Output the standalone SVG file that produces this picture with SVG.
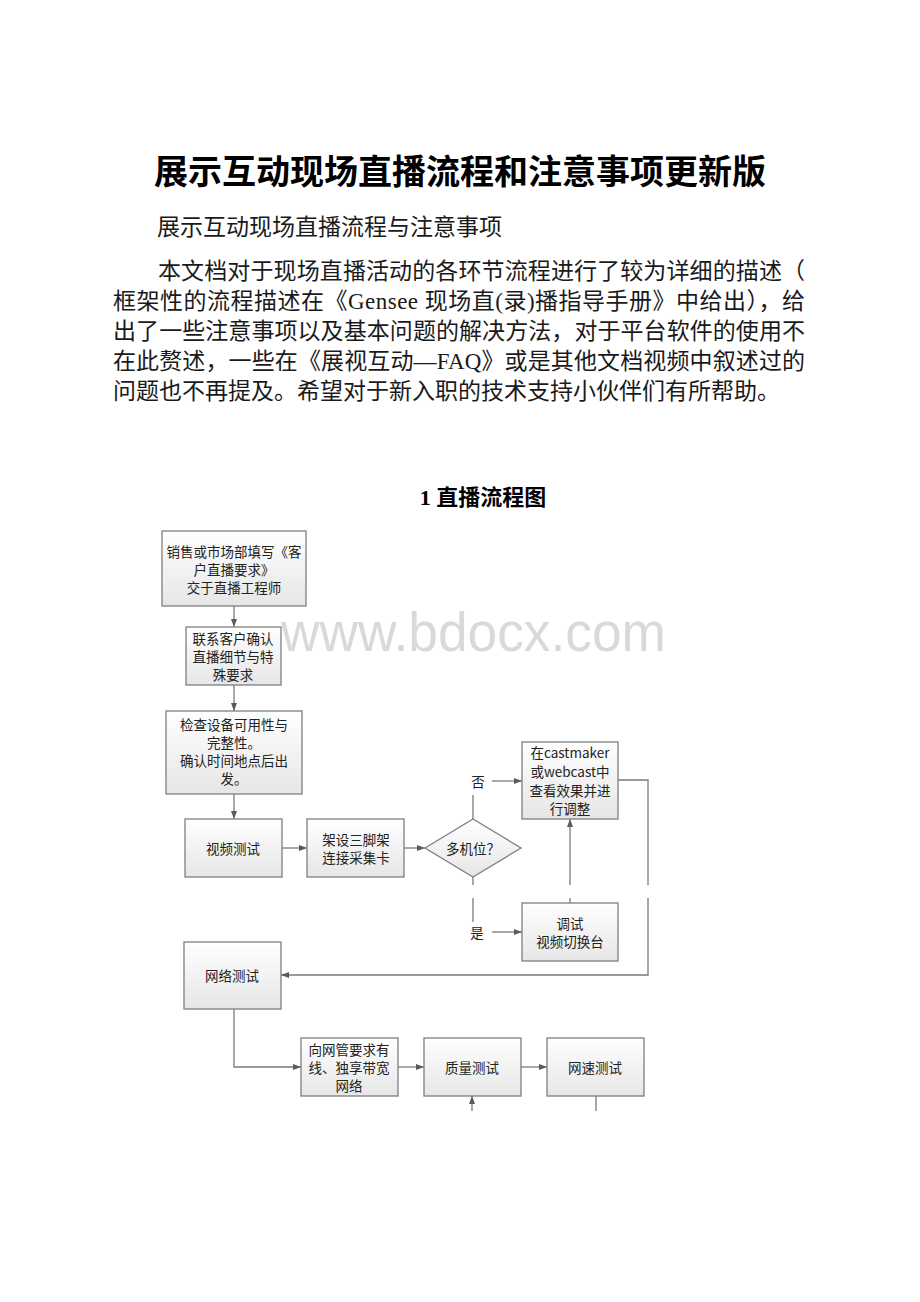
<svg xmlns="http://www.w3.org/2000/svg" width="920" height="1302" viewBox="0 0 920 1302">
<defs>
<linearGradient id="boxfill" x1="0" y1="0" x2="0" y2="1">
<stop offset="0" stop-color="#ffffff"/>
<stop offset="1" stop-color="#e6e6e6"/>
</linearGradient>
<marker id="arr" viewBox="0 0 8 6" refX="8" refY="3" markerWidth="8" markerHeight="6" markerUnits="userSpaceOnUse" orient="auto">
<path d="M0,0 L8,3 L0,6 z" fill="#5a5a5a"/>
</marker>
<style>
.doc{font-family:"Liberation Serif","Noto Sans CJK SC",serif;fill:#1a1a1a}
.title{font-size:34px;font-weight:bold;fill:#000}
.para{font-size:23px}
.head{font-size:22px;font-weight:bold;fill:#000}
.box{fill:url(#boxfill);stroke:#7f7f7f;stroke-width:1.3}
.shadow{fill:#d0d0d0}
.lbl{font-family:"Noto Sans CJK SC","Liberation Sans",sans-serif;font-size:13.5px;fill:#222;text-anchor:middle;dominant-baseline:central}
.wm{font-family:"Liberation Sans","DejaVu Sans",sans-serif;font-size:55px;fill:#d9d9d9}
.cn{fill:none;stroke:#7a7a7a;stroke-width:1.3}
</style>
</defs>
<rect width="920" height="1302" fill="#ffffff"/>

<g id="header">
<text class="doc title" x="460" y="184" text-anchor="middle">展示互动现场直播流程和注意事项更新版</text>
<text class="doc para" x="157" y="235">展示互动现场直播流程与注意事项</text>
<text class="doc para" x="158" y="279" textLength="647" lengthAdjust="spacing">本文档对于现场直播活动的各环节流程进行了较为详细的描述（</text>
<text class="doc para" x="113" y="309" textLength="692" lengthAdjust="spacing">框架性的流程描述在《Gensee 现场直(录)播指导手册》中给出），给</text>
<text class="doc para" x="113" y="339" textLength="692" lengthAdjust="spacing">出了一些注意事项以及基本问题的解决方法，对于平台软件的使用不</text>
<text class="doc para" x="113" y="369" textLength="692" lengthAdjust="spacing">在此赘述，一些在《展视互动—FAQ》或是其他文档视频中叙述过的</text>
<text class="doc para" x="113" y="399">问题也不再提及。希望对于新入职的技术支持小伙伴们有所帮助。</text>
<text class="doc head" x="483" y="505" text-anchor="middle">1 直播流程图</text>
</g>

<g id="connectors">
<path class="cn" d="M234 606 V627" marker-end="url(#arr)"/>
<path class="cn" d="M234 685 V711" marker-end="url(#arr)"/>
<path class="cn" d="M234 794 V819" marker-end="url(#arr)"/>
<path class="cn" d="M282 848 H307" marker-end="url(#arr)"/>
<path class="cn" d="M404 848 H425" marker-end="url(#arr)"/>
<path class="cn" d="M473 819 V795"/>
<path class="cn" d="M492 781 H522" marker-end="url(#arr)"/>
<path class="cn" d="M473 877 V885"/>
<path class="cn" d="M473 898 V922"/>
<path class="cn" d="M492 932 H522" marker-end="url(#arr)"/>
<path class="cn" d="M570 903 V898"/>
<path class="cn" d="M570 885 V819" marker-end="url(#arr)"/>
<path class="cn" d="M618 780 H648 V885"/>
<path class="cn" d="M648 898 V975 H281" marker-end="url(#arr)"/>
<path class="cn" d="M234 1009 V1067 H301" marker-end="url(#arr)"/>
<path class="cn" d="M398 1067 H424" marker-end="url(#arr)"/>
<path class="cn" d="M521 1067 H547" marker-end="url(#arr)"/>
<path class="cn" d="M472 1111 V1096" marker-end="url(#arr)"/>
<path class="cn" d="M596 1096 V1111"/>
<text class="lbl" x="478" y="781">否</text>
<text class="lbl" x="477" y="932">是</text>
</g>

<g id="nodeA">
<rect class="box" x="162" y="531" width="144" height="75"/>
<text class="lbl" x="234" y="551">销售或市场部填写《客</text>
<text class="lbl" x="234" y="569">户直播要求》</text>
<text class="lbl" x="234" y="587">交于直播工程师</text>
</g>
<g id="nodeB">
<rect class="box" x="186" y="627" width="95" height="58"/>
<text class="lbl" x="233" y="638">联系客户确认</text>
<text class="lbl" x="233" y="656">直播细节与特</text>
<text class="lbl" x="233" y="674">殊要求</text>
</g>
<g id="nodeC">
<rect class="box" x="166" y="711" width="136" height="83"/>
<text class="lbl" x="234" y="724">检查设备可用性与</text>
<text class="lbl" x="234" y="742">完整性。</text>
<text class="lbl" x="234" y="760">确认时间地点后出</text>
<text class="lbl" x="234" y="778">发。</text>
</g>
<g id="nodeD">
<rect class="box" x="185" y="819" width="97" height="58"/>
<text class="lbl" x="233" y="848">视频测试</text>
</g>
<g id="nodeE">
<rect class="box" x="307" y="819" width="97" height="58"/>
<text class="lbl" x="356" y="839">架设三脚架</text>
<text class="lbl" x="356" y="857">连接采集卡</text>
</g>
<g id="nodeDiamond">
<polygon class="box" points="425,848 473,819 521,848 473,877"/>
<text class="lbl" x="473" y="848">多机位？</text>
</g>
<g id="nodeF">
<rect class="box" x="522" y="742" width="96" height="77"/>
<text class="lbl" x="570" y="752">在castmaker</text>
<text class="lbl" x="570" y="771">或webcast中</text>
<text class="lbl" x="570" y="790">查看效果并进</text>
<text class="lbl" x="570" y="808">行调整</text>
</g>
<g id="nodeG">
<rect class="box" x="522" y="903" width="96" height="58"/>
<text class="lbl" x="570" y="923">调试</text>
<text class="lbl" x="570" y="941">视频切换台</text>
</g>
<g id="nodeH">
<rect class="box" x="184" y="942" width="97" height="67"/>
<text class="lbl" x="232" y="975">网络测试</text>
</g>
<g id="nodeI">
<rect class="box" x="301" y="1038" width="97" height="58"/>
<text class="lbl" x="349" y="1049">向网管要求有</text>
<text class="lbl" x="349" y="1067">线、独享带宽</text>
<text class="lbl" x="349" y="1085">网络</text>
</g>
<g id="nodeJ">
<rect class="box" x="424" y="1038" width="97" height="58"/>
<text class="lbl" x="472" y="1067">质量测试</text>
</g>
<g id="nodeK">
<rect class="box" x="547" y="1038" width="97" height="58"/>
<text class="lbl" x="595" y="1067">网速测试</text>
</g>

<g id="watermark">
<text class="wm" x="281" y="651" textLength="385" lengthAdjust="spacingAndGlyphs">www.bdocx.com</text>
</g>
</svg>
